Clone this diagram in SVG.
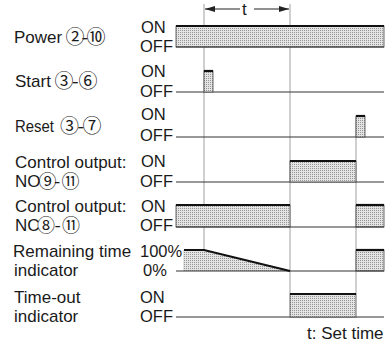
<svg xmlns="http://www.w3.org/2000/svg" width="386" height="343" viewBox="0 0 386 343">
<defs>
<pattern id="dots" width="2" height="2" patternUnits="userSpaceOnUse">
<rect width="2" height="2" fill="#e4e4e4"/>
<rect x="0" y="0" width="1" height="1" fill="#959595"/>
</pattern>
<marker id="ah" viewBox="0 0 10 6" refX="10" refY="3" markerWidth="10" markerHeight="6" orient="auto-start-reverse" markerUnits="userSpaceOnUse">
<path d="M0,0 L10,3 L0,6 Z" fill="#222"/>
</marker>
</defs>
<style>
text{font-family:"Liberation Sans",Arial,sans-serif;fill:#1a1a1a;}
.lb{font-size:17px;}
.st{font-size:16.5px;}
.c{font-family:"Noto Sans CJK JP","DejaVu Sans",sans-serif;font-size:19px;}
.cs{font-family:"Noto Sans CJK JP","DejaVu Sans",sans-serif;font-size:18px;}
.base{stroke:#333;stroke-width:1;fill:none;}
.grid{stroke:#888;stroke-width:0.8;fill:none;}
.blk{fill:url(#dots);stroke:#444;stroke-width:0.8;}
.top{stroke:#111;stroke-width:2.2;fill:none;}
</style>

<g id="connectors">
<line class="grid" x1="204" y1="4" x2="204" y2="250"/>
<line class="grid" x1="290" y1="4" x2="290" y2="294"/>
<line class="grid" x1="356" y1="116" x2="356" y2="294"/>
<line x1="205" y1="9" x2="240" y2="9" stroke="#222" stroke-width="1" marker-start="url(#ah)"/>
<line x1="254" y1="9" x2="289" y2="9" stroke="#222" stroke-width="1" marker-end="url(#ah)"/>
</g>
<text class="lb" x="242" y="15">t</text>

<g id="power">
<text class="lb" x="14" y="43">Power<tspan class="c" x="65.5 81.4 86.5" y="44">②-⑩</tspan></text>
<text class="st" x="141" y="33">ON</text>
<text class="st" x="140" y="52">OFF</text>
<rect class="blk" x="176" y="26" width="208" height="21" stroke="none"/>
<line class="base" x1="176" y1="47" x2="384" y2="47"/>
<line class="top" x1="176" y1="26" x2="384" y2="26"/>
</g>

<g id="start">
<text class="lb" x="15" y="87">Start<tspan class="c" x="54.5 71.9 78.5" y="88">③-⑥</tspan></text>
<text class="st" x="141" y="77">ON</text>
<text class="st" x="140" y="97">OFF</text>
<line class="base" x1="176" y1="92" x2="384" y2="92"/>
<rect class="blk" x="204" y="71" width="9" height="21"/>
<line class="top" x1="204" y1="71" x2="213" y2="71"/>
</g>

<g id="reset">
<text class="lb" x="15" y="132"><tspan textLength="39" lengthAdjust="spacingAndGlyphs">Reset</tspan><tspan class="c" x="60 77.4 82.5" y="133">③-⑦</tspan></text>
<text class="st" x="141" y="120">ON</text>
<text class="st" x="140" y="141">OFF</text>
<line class="base" x1="176" y1="137" x2="384" y2="137"/>
<rect class="blk" x="356" y="116" width="9" height="21"/>
<line class="top" x1="356" y1="116" x2="365" y2="116"/>
</g>

<g id="no">
<text class="lb"><tspan x="15" y="168">Control output:</tspan><tspan x="15" y="187">NO</tspan><tspan class="cs" x="38.5 54 61.5" y="188">⑨-⑪</tspan></text>
<text class="st" x="141" y="167">ON</text>
<text class="st" x="140" y="187">OFF</text>
<line class="base" x1="176" y1="182" x2="384" y2="182"/>
<rect class="blk" x="290" y="161" width="66" height="21"/>
<line class="top" x1="290" y1="161" x2="356" y2="161"/>
</g>

<g id="nc">
<text class="lb"><tspan x="15" y="212">Control output:</tspan><tspan x="15" y="231">NC</tspan><tspan class="cs" x="37 54.5 62" y="232">⑧-⑪</tspan></text>
<text class="st" x="141" y="212">ON</text>
<text class="st" x="140" y="231">OFF</text>
<rect class="blk" x="176" y="205" width="114" height="22"/>
<rect class="blk" x="356" y="205" width="28" height="22"/>
<line class="base" x1="176" y1="227" x2="384" y2="227"/>
<line class="top" x1="176" y1="205" x2="290" y2="205"/>
<line class="top" x1="356" y1="205" x2="384" y2="205"/>
</g>

<g id="remaining">
<text class="lb"><tspan x="13" y="257">Remaining time</tspan><tspan x="14" y="276">indicator</tspan></text>
<text class="st" x="140" y="257">100%</text>
<text class="st" x="143" y="276">0%</text>
<polygon points="183,250 204,250 290,271 183,271" fill="url(#dots)"/>
<rect class="blk" x="356" y="250" width="28" height="21"/>
<line class="base" x1="176" y1="271" x2="384" y2="271"/>
<polyline class="top" points="184,250 204,250 290,271"/>
<line class="top" x1="356" y1="250" x2="384" y2="250"/>
</g>

<g id="timeout">
<text class="lb"><tspan x="14" y="303">Time-out</tspan><tspan x="14" y="322">indicator</tspan></text>
<text class="st" x="140" y="303">ON</text>
<text class="st" x="140" y="322">OFF</text>
<line class="base" x1="176" y1="317" x2="384" y2="317"/>
<rect class="blk" x="290" y="294" width="66" height="23"/>
<line class="top" x1="290" y1="294" x2="356" y2="294"/>
</g>

<text class="lb" x="307" y="339">t: Set time</text>
</svg>
